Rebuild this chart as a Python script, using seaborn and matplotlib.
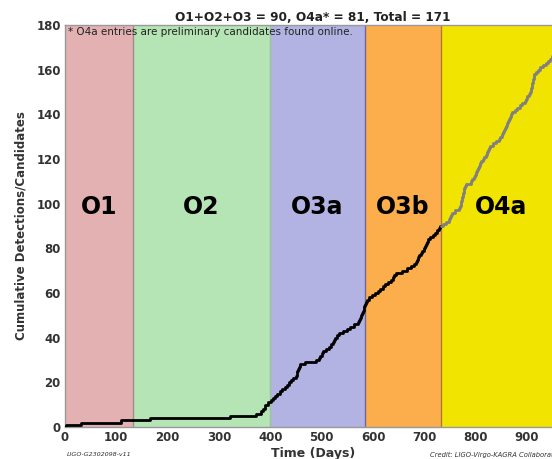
import matplotlib
matplotlib.use("Agg")
import matplotlib.pyplot as plt
import numpy as np
import pandas as pd
import seaborn as sns

# Observing runs (days of accumulated observing time)
run_names = ["O1", "O2", "O3a", "O3b", "O4a"]
run_starts = [0, 132, 399, 584, 732]
run_ends = [132, 399, 584, 732, 966]
run_colors = ["#e3b1b1", "#b5e4b5", "#b3b3e3", "#fdae4c", "#f1e400"]
run_edges = ["#a08c8c", "#98c498", "#6a6a9a", "#b07a30", "#c0b000"]

# Day of each confident detection (O1-O3)
o1_days = [2, 32, 109]
o2_days = [166, 322, 372, 381, 386, 389, 390, 395]
o3a_days = [401, 405, 409, 413, 418, 423, 428, 433, 437, 441, 445, 449,
            451, 452, 454, 456, 458, 468, 489, 494, 497, 500, 503, 509,
            514, 519, 522, 524, 526, 529, 533, 541, 550, 556, 563, 570,
            573, 575, 577, 579, 581, 582, 583, 584]
o3b_days = [586, 589, 592, 598, 604, 609, 613, 619, 624, 629, 634, 638,
            641, 645, 656, 667, 674, 679, 683, 685, 687, 689, 693, 696,
            699, 701, 703, 705, 707, 711, 716, 720, 724, 728, 731]
# Day of each preliminary O4a candidate
o4a_days = [737, 742, 747, 750, 752, 754, 760, 768, 770, 771, 772, 773,
            774, 775, 776, 777, 778, 779, 781, 791, 793, 796, 799, 801,
            803, 805, 807, 809, 811, 814, 817, 819, 821, 824, 826, 828,
            834, 840, 845, 848, 851, 853, 855, 857, 859, 861, 863, 865,
            867, 869, 871, 876, 880, 886, 891, 895, 898, 900, 903, 905,
            907, 908, 909, 910, 911, 912, 913, 914, 917, 921, 925, 931,
            937, 941, 945, 948, 951, 954, 957, 961, 964]

title = "O1+O2+O3 = 90, O4a* = 81, Total = 171"
note = "* O4a entries are preliminary candidates found online."

confirmed = o1_days + o2_days + o3a_days + o3b_days
n_conf = len(confirmed)
n_cand = len(o4a_days)

conf_df = pd.DataFrame({
    "day": [0] + confirmed + [run_starts[4]],
    "count": [0] + list(range(1, n_conf + 1)) + [n_conf],
})
cand_df = pd.DataFrame({
    "day": [run_starts[4]] + o4a_days + [run_ends[4]],
    "count": [n_conf] + list(range(n_conf + 1, n_conf + n_cand + 1)) + [n_conf + n_cand],
})

sns.set_theme(style="white")
plt.rcParams["font.family"] = ["DejaVu Sans"]

fig = plt.figure(figsize=(5.52, 4.59), dpi=100)
ax = fig.add_axes([65 / 552, 32 / 459, 496 / 552, 402 / 459])

for name, s, e, c, ec in zip(run_names, run_starts, run_ends, run_colors, run_edges):
    ax.axvspan(s, e, color=c, zorder=0, lw=0)
    ax.axvline(e, color=ec, lw=1.0, zorder=1)
    ax.text((s + e) / 2, 98.5, name, ha="center", va="center",
            fontsize=17, fontweight="bold", color="black", zorder=3)

sns.lineplot(data=conf_df, x="day", y="count", ax=ax, color="black",
             lw=2.0, drawstyle="steps-post", estimator=None, sort=False, zorder=4)
sns.lineplot(data=cand_df, x="day", y="count", ax=ax, color="#808080",
             lw=2.0, drawstyle="steps-post", estimator=None, sort=False, zorder=4)

ax.set_xlim(0, run_ends[4])
ax.set_ylim(0, 180)
ax.set_xticks(np.arange(0, 901, 100))
ax.set_yticks(np.arange(0, 181, 20))
ax.tick_params(axis="both", length=0, pad=3, labelsize=8.5, labelcolor="#333333")
for lab in ax.get_xticklabels() + ax.get_yticklabels():
    lab.set_fontweight("bold")

ax.set_xlabel("Time (Days)", fontsize=9, fontweight="bold", color="#333333", labelpad=2)
ax.set_ylabel("Cumulative Detections/Candidates", fontsize=8.5, fontweight="bold",
              color="#333333", labelpad=6)
ax.set_title(title, fontsize=8.7, fontweight="bold", color="#222222", pad=3)

ax.text(0.006, 0.995, note, transform=ax.transAxes, ha="left", va="top",
        fontsize=7.5, color="#222222", zorder=5)

for sp in ax.spines.values():
    sp.set_color("#999999")
    sp.set_linewidth(1.0)

fig.text(67 / 552, 1 - 455 / 459, "LIGO-G2302098-v11", fontsize=4.6,
         style="italic", color="#333333", ha="left", va="center")
fig.text(430 / 552, 1 - 455 / 459, "Credit: LIGO-Virgo-KAGRA Collaboration",
         fontsize=4.9, style="italic", color="#333333", ha="left", va="center")

fig.savefig("out.png", dpi=100)
